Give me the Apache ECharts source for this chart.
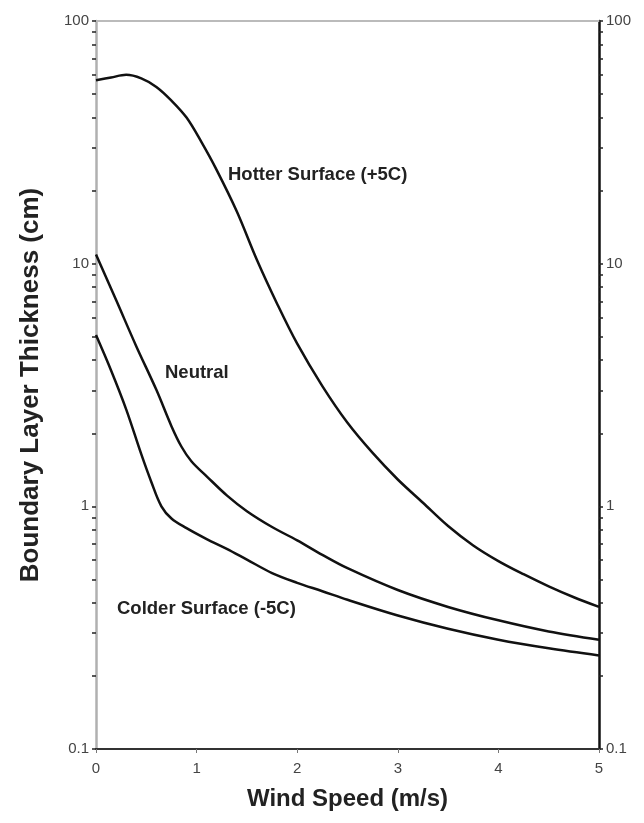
<!DOCTYPE html>
<html>
<head>
<meta charset="utf-8">
<script src="https://cdn.jsdelivr.net/npm/echarts@6/dist/echarts.min.js"></script>
<style>
  html, body { margin: 0; padding: 0; background: #fff; }
  #chart { width: 644px; height: 823px; }
</style>
</head>
<body>
<div id="chart"></div>
<script>
// wind speed (m/s) vs boundary layer thickness (cm)
const hotterX = [0, 0.15, 0.3, 0.45, 0.6, 0.75, 0.9, 1.05, 1.2, 1.4, 1.6, 1.8, 2.0, 2.25, 2.5, 2.75, 3.0, 3.25, 3.5, 3.75, 4.0, 4.25, 4.5, 4.75, 5.0]
const hotterY = [57, 58.5, 60, 58, 53.5, 47, 40, 31.6, 24.3, 16.4, 10.35, 6.84, 4.68, 3.13, 2.21, 1.66, 1.29, 1.035, 0.83, 0.69, 0.595, 0.525, 0.468, 0.422, 0.385]

const neutralX = [0, 0.2, 0.4, 0.6, 0.75, 0.85, 0.95, 1.1, 1.3, 1.5, 1.75, 2.0, 2.25, 2.5, 3.0, 3.5, 4.0, 4.5, 5.0]
const neutralY = [10.9, 7.08, 4.57, 3.02, 2.14, 1.76, 1.53, 1.33, 1.11, 0.955, 0.822, 0.724, 0.631, 0.556, 0.452, 0.385, 0.339, 0.305, 0.282]

const colderX = [0, 0.15, 0.3, 0.45, 0.55, 0.65, 0.75, 0.9, 1.1, 1.3, 1.5, 1.75, 2.0, 2.25, 2.5, 3.0, 3.5, 4.0, 4.5, 5.0]
const colderY = [5.08, 3.63, 2.51, 1.64, 1.26, 1.0, 0.891, 0.813, 0.733, 0.668, 0.603, 0.531, 0.484, 0.447, 0.412, 0.355, 0.313, 0.282, 0.26, 0.243]

const logTicks = [0.1, 0.2, 0.3, 0.4, 0.5, 0.6, 0.7, 0.8, 0.9, 1, 2, 3, 4, 5, 6, 7, 8, 9, 10, 20, 30, 40, 50, 60, 70, 80, 90, 100]
const logLabels = [0.1, 1, 10, 100]

const seriesNames = ['Hotter Surface (+5C)', 'Neutral', 'Colder Surface (-5C)']

const zip = (xs, ys) => xs.map((x, i) => [x, ys[i]])

const chart = echarts.init(document.getElementById('chart'))

const font = 'Arial, "Liberation Sans", sans-serif'

const yAxisBase = (pos, lineColor) => ({
  type: 'log',
  logBase: 10,
  position: pos,
  min: 0.1,
  max: 100,
  axisLine: { show: true, onZero: false, lineStyle: { color: lineColor, width: 2.5 } },
  axisTick: {
    show: true,
    inside: false,
    length: 4,
    customValues: logTicks,
    lineStyle: { color: '#222', width: 1.5 },
  },
  axisLabel: {
    customValues: logLabels,
    color: '#444',
    fontFamily: font,
    fontSize: 15,
    margin: 7,
    formatter: (v) => String(+v.toPrecision(3)),
  },
  splitLine: { show: false },
})

const option = {
  animation: false,
  backgroundColor: '#fff',
  grid: { left: 96, right: 45, top: 21, bottom: 74, containLabel: false },
  xAxis: [
    {
      type: 'value',
      min: 0,
      max: 5,
      interval: 1,
      position: 'bottom',
      name: 'Wind Speed (m/s)',
      nameLocation: 'middle',
      nameGap: 38,
      nameTextStyle: { fontFamily: font, fontWeight: 'bold', fontSize: 24, color: '#222' },
      axisLine: { onZero: false, lineStyle: { color: '#333', width: 2 } },
      axisTick: { inside: false, length: 4, lineStyle: { color: '#777' } },
      axisLabel: { color: '#444', fontFamily: font, fontSize: 15, margin: 12 },
      splitLine: { show: false },
    },
    {
      type: 'value',
      min: 0,
      max: 5,
      position: 'top',
      axisLine: { show: true, onZero: false, lineStyle: { color: '#bbb', width: 2 } },
      axisTick: { show: false },
      axisLabel: { show: false },
      splitLine: { show: false },
    },
  ],
  yAxis: [
    Object.assign(yAxisBase('left', '#b0b0b0'), {
      name: 'Boundary Layer Thickness (cm)',
      nameLocation: 'middle',
      nameGap: 52,
      nameTextStyle: { fontFamily: font, fontWeight: 'bold', fontSize: 26, color: '#222' },
    }),
    yAxisBase('right', '#111'),
  ],
  series: [
    { name: seriesNames[0], data: zip(hotterX, hotterY) },
    { name: seriesNames[1], data: zip(neutralX, neutralY) },
    { name: seriesNames[2], data: zip(colderX, colderY) },
  ].map((s) => ({
    ...s,
    type: 'line',
    smooth: 0.35,
    symbol: 'none',
    lineStyle: { color: '#111', width: 2.5 },
  })),
  graphic: [
    { type: 'text', left: 228, top: 165, style: { text: seriesNames[0], font: 'bold 18.5px ' + font, fill: '#222' } },
    { type: 'text', left: 165, top: 363, style: { text: seriesNames[1], font: 'bold 18.5px ' + font, fill: '#222' } },
    { type: 'text', left: 117, top: 599, style: { text: seriesNames[2], font: 'bold 18.5px ' + font, fill: '#222' } },
  ],
}

chart.setOption(option)
</script>
</body>
</html>
